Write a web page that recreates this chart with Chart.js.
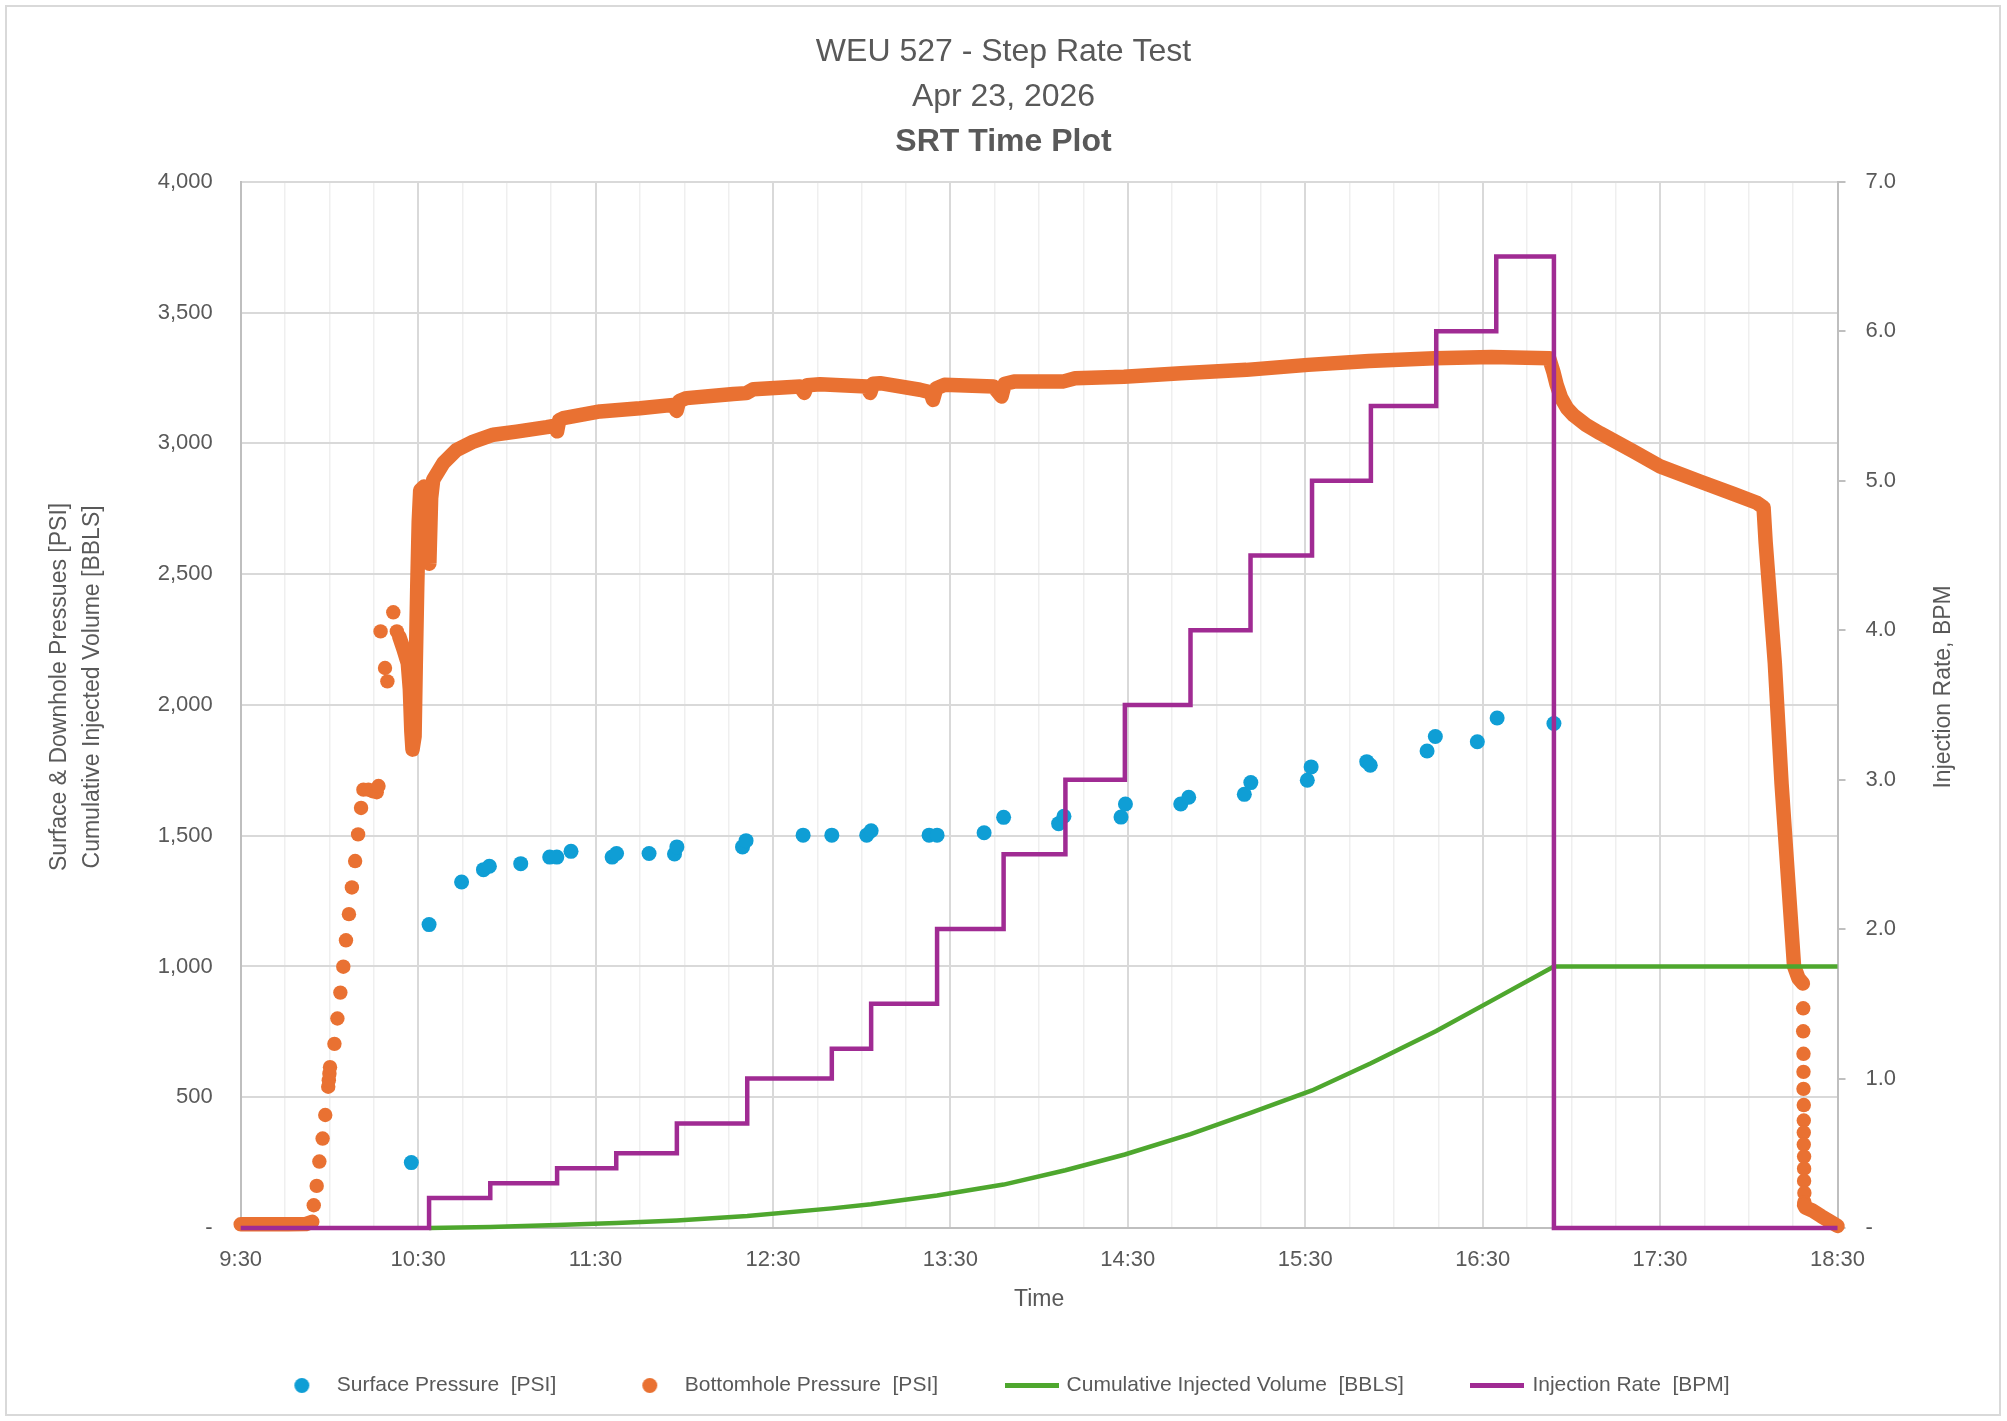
<!DOCTYPE html>
<html>
<head>
<meta charset="utf-8">
<script src="https://cdn.jsdelivr.net/npm/chart.js@4.4.1/dist/chart.umd.min.js"></script>
<style>
html,body{margin:0;padding:0;background:#ffffff;}
canvas{display:block;}
</style>
</head>
<body>
<canvas id="chart" width="2007" height="1421"></canvas>
<script>
// ---------------- DATA (x = minutes elapsed since 9:30) ----------------
const timeTickLabels = ['9:30','10:30','11:30','12:30','13:30','14:30','15:30','16:30','17:30','18:30'];

const surfacePressure = [
  [57.7,250],[63.7,1160],[74.7,1323],[82.1,1370],[84.1,1383],[94.7,1393],[104.5,1418],[106.9,1418],
  [111.7,1440],[125.6,1418],[127.1,1432],[138.1,1432],[146.7,1430],[147.5,1457],[169.7,1457],[170.9,1481],
  [190.2,1502],[199.9,1502],[211.7,1502],[213.2,1519],[232.8,1502],[235.5,1502],[251.4,1511],[258.0,1570],
  [276.6,1546],[278.4,1574],[297.7,1571],[299.2,1621],[317.9,1621],[320.6,1647],[339.4,1658],[341.6,1703],
  [360.7,1712],[362.0,1763],[380.8,1783],[382.0,1769],[401.2,1824],[404.0,1879],[418.2,1859],[424.9,1950],
  [444.1,1929]
];

// bottomhole pressure: dense (continuous-looking) stretches
const bhpStart = [[0,14],[8,14],[16,14],[22,15],[24.2,24]];
const bhpMain = [
  [53.6,2262],[55.0,2215],[56.5,2160],[57.2,2060],[57.7,1900],[58.1,1829],[58.8,1880],[59.2,2150],
  [59.7,2450],[60.2,2700],[60.7,2820],[62.0,2835],[63.2,2810],[63.8,2540],[64.4,2790],[65.1,2861],
  [68.5,2924],[73.0,2975],[78.7,3007],[85.4,3033],[93.3,3045],[103.5,3062],[106.4,3068],[107.0,3046],
  [107.7,3088],[109.1,3096],[121.5,3122],[135.0,3134],[146.3,3147],[147.4,3124],[148.3,3162],[150.8,3173],
  [166.6,3189],[171.0,3192],[173.4,3207],[189.1,3217],[190.6,3193],[191.6,3222],[195.9,3226],[211.7,3217],
  [212.9,3193],[213.9,3228],[216.2,3230],[229.7,3205],[233.3,3195],[234.1,3166],[235.2,3210],[238.0,3224],
  [254.6,3217],[257.3,3179],[258.4,3228],[261.5,3236],[278.0,3236],[282.2,3249],[298.7,3255],[318.0,3268],
  [340.1,3281],[360.9,3300],[381.6,3315],[403.7,3325],[423.0,3330],[442.5,3325],[444.0,3270],[445.0,3225],
  [446.5,3175],[448.5,3135],[450.7,3108],[455.0,3070],[459.7,3039],[471.0,2969],[480.0,2912],[493.5,2854],
  [504.8,2807],[512.7,2773],[515.0,2755],[515.7,2622],[518.8,2160],[521.1,1696],[523.9,1233],[525.3,1002],
  [526.8,955],[528.3,935]
];
const bhpTail = [[528.7,88],[529.2,78],[531.3,68],[534.5,45],[537.5,25],[540.0,8]];
// bottomhole pressure: isolated readings
const bhpRamp = [
  [24.7,87],[25.7,161],[26.6,254],[27.7,342],[28.6,432],[29.6,540],[29.8,565],[30.0,590],[30.2,615],
  [31.7,704],[32.7,801],[33.7,900],[34.7,999],[35.6,1100],[36.6,1200],[37.6,1302],[38.7,1403],[39.7,1505],
  [40.7,1606],[41.5,1676],[43.2,1676],[44.6,1670],[46.0,1666],[46.6,1690],
  [47.3,2281],[48.8,2141],[49.6,2090],[51.6,2354],[52.8,2281]
];
const bhpFalloff = [
  [528.4,840],[528.4,752],[528.5,666],[528.5,597],[528.5,532],[528.6,470],[528.6,411],[528.6,365],
  [528.6,319],[528.7,273],[528.7,227],[528.7,180],[528.8,134],[528.8,99]
];

const cumulativeVolume = [
  [63.7,0],[84.4,4],[107.0,11],[127.0,19],[147.5,29],[171.3,46],[199.9,75],[213.2,91],[235.5,124],
  [258.0,166],[278.9,221],[299.0,281],[321.2,359],[341.5,440],[362.3,526],[382.2,630],[404.3,753],
  [424.6,879],[444.1,1000],[540.0,1000]
];

const injectionRate = [
  [0,0],[63.7,0.2],[84.4,0.3],[107.0,0.4],[127.0,0.5],[147.5,0.7],[171.3,1.0],[199.9,1.2],[213.2,1.5],
  [235.5,2.0],[258.0,2.5],[278.9,3.0],[299.0,3.5],[321.2,4.0],[341.5,4.5],[362.3,5.0],[382.2,5.5],
  [404.3,6.0],[424.6,6.5],[444.1,0],[540.0,0]
];

const seriesNames = ['Surface Pressure  [PSI]','Bottomhole Pressure  [PSI]','Cumulative Injected Volume  [BBLS]','Injection Rate  [BPM]'];
const titleLines = ['WEU 527 - Step Rate Test','Apr 23, 2026'];
const subtitleText = 'SRT Time Plot';
const leftAxisTitle = ['Surface & Downhole Pressues [PSI]','Cumulative Injected Volume [BBLS]'];
const rightAxisTitle = 'Injection Rate, BPM';
const xAxisTitle = 'Time';

// ---------------- STYLE ----------------
const FONT = "'Liberation Sans', Arial, sans-serif";
const GREY = '#595959';
const BLUE = '#0f9ed5', ORANGE = '#e97132', GREEN = '#4ea72e', PURPLE = '#a02b93';

const pts = arr => arr.map(([t, v]) => ({x: t, y: v}));

function circleIcon(color, r) {
  const c = document.createElement('canvas');
  c.width = Math.ceil(r * 2) + 2; c.height = Math.ceil(r * 2) + 2;
  const g = c.getContext('2d');
  g.fillStyle = color; g.beginPath(); g.arc(c.width / 2, c.height / 2, r, 0, Math.PI * 2); g.fill();
  return c;
}
function lineIcon(color, w, h) {
  const c = document.createElement('canvas');
  c.width = w; c.height = h;
  const g = c.getContext('2d');
  g.fillStyle = color; g.fillRect(0, 0, w, h);
  return c;
}

const framePlugin = {
  id: 'frame',
  beforeDraw(chart) {
    const c = chart.ctx;
    c.save();
    c.fillStyle = '#ffffff';
    c.fillRect(0, 0, chart.width, chart.height);
    c.strokeStyle = '#d9d9d9';
    c.lineWidth = 2;
    c.strokeRect(6, 6, chart.width - 13, chart.height - 12);
    c.restore();
  }
};

const axisTitlePlugin = {
  id: 'axisTitles',
  afterDraw(chart) {
    const c = chart.ctx;
    const a = chart.chartArea;
    const cy = (a.top + a.bottom) / 2 - 18;
    c.save();
    c.fillStyle = GREY;
    c.font = '23px ' + FONT;
    c.textAlign = 'center';
    c.textBaseline = 'middle';
    const items = [
      [a.left - 181.4, leftAxisTitle[0]],
      [a.left - 148.0, leftAxisTitle[1]],
      [a.right + 106.5, rightAxisTitle]
    ];
    items.forEach(([x, t]) => {
      c.save();
      c.translate(x, cy);
      c.rotate(-Math.PI / 2);
      c.fillText(t, 0, 0);
      c.restore();
    });
    c.restore();
  }
};

const denseLine = (data) => ({
  data: pts(data), yAxisID: 'y', showLine: true, borderColor: ORANGE, backgroundColor: ORANGE,
  borderWidth: 14.5, borderCapStyle: 'round', borderJoinStyle: 'round', pointRadius: 0, pointHoverRadius: 0,
  tension: 0, order: 2, clip: false
});
const sparseDots = (data) => ({
  data: pts(data), yAxisID: 'y', showLine: false, backgroundColor: ORANGE, borderWidth: 0,
  pointRadius: 7.2, pointHoverRadius: 7.2, order: 2, clip: false
});

const legendItems = [
  {text: seriesNames[0], pointStyle: circleIcon(BLUE, 7.5), datasetIndex: 0},
  {text: seriesNames[1], pointStyle: circleIcon(ORANGE, 7.5), datasetIndex: 1},
  {text: seriesNames[2], pointStyle: lineIcon(GREEN, 54, 5), datasetIndex: 6},
  {text: seriesNames[3], pointStyle: lineIcon(PURPLE, 54, 5), datasetIndex: 7}
].map(it => Object.assign({fillStyle: 'transparent', strokeStyle: 'transparent', lineWidth: 0, hidden: false, fontColor: GREY}, it));

new Chart(document.getElementById('chart'), {
  type: 'scatter',
  data: {
    datasets: [
      {label: seriesNames[0], data: pts(surfacePressure), yAxisID: 'y', backgroundColor: BLUE, borderWidth: 0,
       pointRadius: 7.5, pointHoverRadius: 7.5, order: 3, clip: false},
      Object.assign(denseLine(bhpMain), {label: seriesNames[1]}),
      Object.assign(denseLine(bhpStart), {label: seriesNames[1] + ' (start)'}),
      Object.assign(denseLine(bhpTail), {label: seriesNames[1] + ' (tail)'}),
      Object.assign(sparseDots(bhpRamp), {label: seriesNames[1] + ' (ramp)'}),
      Object.assign(sparseDots(bhpFalloff), {label: seriesNames[1] + ' (falloff)'}),
      {label: seriesNames[2], data: pts(cumulativeVolume), yAxisID: 'y', showLine: true, borderColor: GREEN,
       backgroundColor: GREEN, borderWidth: 4.5, pointRadius: 0, pointHoverRadius: 0, tension: 0, order: 1, clip: false},
      {label: seriesNames[3], data: pts(injectionRate), yAxisID: 'y2', showLine: true, stepped: 'before',
       borderColor: PURPLE, backgroundColor: PURPLE, borderWidth: 4.5, borderJoinStyle: 'miter',
       pointRadius: 0, pointHoverRadius: 0, order: 0, clip: false}
    ]
  },
  options: {
    responsive: false,
    animation: false,
    events: [],
    devicePixelRatio: 1,
    layout: {padding: {top: 0, left: 0, right: 0, bottom: 15}},
    scales: {
      x: {
        type: 'linear', min: 0, max: 540,
        ticks: {
          stepSize: 15, autoSkip: false, maxRotation: 0, minRotation: 0, padding: 19,
          color: GREY, font: {family: FONT, size: 22},
          callback: v => (v % 60 === 0 ? timeTickLabels[v / 60] : '')
        },
        grid: {
          drawTicks: false,
          color: c => (c.tick && c.tick.value % 60 === 0) ? '#d9d9d9' : '#efefef',
          lineWidth: c => (c.tick && c.tick.value % 60 === 0) ? 2 : 1.5
        },
        border: {color: '#bfbfbf', width: 2},
        title: {display: true, text: xAxisTitle, color: GREY, font: {family: FONT, size: 23, lineHeight: 1}, padding: {top: 0, bottom: -5}},
        afterFit: s => { s.height = 78; }
      },
      y: {
        position: 'left', min: 0, max: 4000,
        ticks: {
          stepSize: 500, padding: 28, color: GREY, font: {family: FONT, size: 22},
          callback: v => (v === 0 ? '-' : v.toLocaleString('en-US'))
        },
        grid: {drawTicks: false, color: '#d9d9d9', lineWidth: 2},
        border: {color: '#bfbfbf', width: 2},
        afterFit: s => { s.width = 240.7; }
      },
      y2: {
        position: 'right', min: 0, max: 7,
        ticks: {
          stepSize: 1, padding: 20, color: GREY, font: {family: FONT, size: 22},
          callback: v => (v === 0 ? '-' : v.toFixed(1))
        },
        grid: {drawOnChartArea: false, drawTicks: true, tickLength: 8, color: '#bfbfbf', lineWidth: 2},
        border: {color: '#bfbfbf', width: 2},
        afterFit: s => { s.width = 169.5; }
      }
    },
    plugins: {
      title: {
        display: true, text: titleLines, color: GREY,
        font: {family: FONT, size: 32, weight: 'normal', lineHeight: '45px'},
        padding: {top: 29.5, bottom: 0}
      },
      subtitle: {
        display: true, text: subtitleText, color: GREY,
        font: {family: FONT, size: 32, weight: 'bold', lineHeight: '45px'},
        padding: {top: 0, bottom: 17.3}
      },
      legend: {
        display: true, position: 'bottom', align: 'center',
        labels: {
          usePointStyle: true, pointStyleWidth: 49, padding: 69,
          color: GREY, font: {family: FONT, size: 21},
          generateLabels: () => legendItems
        }
      },
      tooltip: {enabled: false}
    }
  },
  plugins: [framePlugin, axisTitlePlugin]
});
</script>
</body>
</html>
